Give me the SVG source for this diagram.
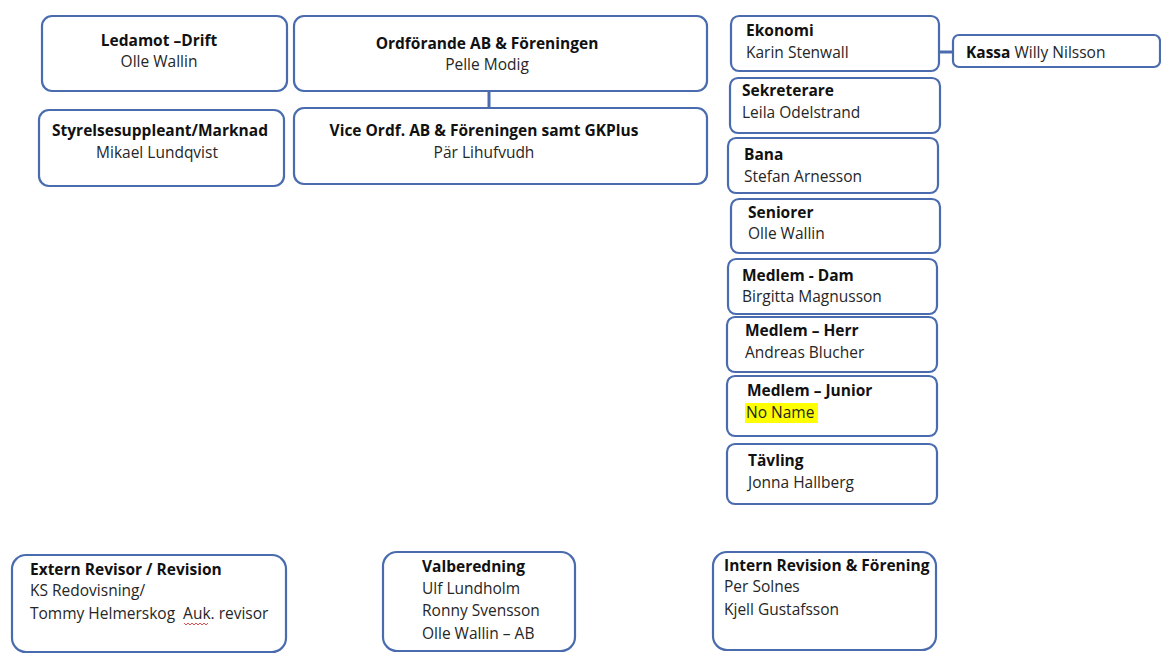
<svg xmlns="http://www.w3.org/2000/svg" width="1161" height="663" viewBox="0 0 1161 663">
<style>
.b{fill:#fff;stroke:#4a6cae;stroke-width:2.2}
text{font-family:"Open Sans",Lato,"Liberation Sans",sans-serif;font-size:15.5px;fill:#262626;white-space:pre}
.h{font-weight:bold;fill:#111}
.c{text-anchor:middle}
.l{stroke:#4a6cae;stroke-width:3;fill:none}
</style>
<rect width="1161" height="663" fill="#fff"/>
<g id="connectors">
<line class="l" x1="489" y1="91" x2="489" y2="108"/>
<line class="l" x1="939" y1="52" x2="953" y2="52"/>
</g>
<g id="ledamot"><rect class="b" x="42" y="16" width="245" height="75" rx="10"/>
<text class="h c" x="159" y="46">Ledamot –Drift</text><text class="c" x="159" y="67">Olle Wallin</text></g>
<g id="ordforande"><rect class="b" x="294" y="16" width="413" height="75" rx="10"/>
<text class="h c" x="487" y="49">Ordförande AB &amp; Föreningen</text><text class="c" x="487" y="70">Pelle Modig</text></g>
<g id="styrelsesuppleant"><rect class="b" x="39" y="110" width="245" height="76" rx="10"/>
<text class="h c" x="160" y="136">Styrelsesuppleant/Marknad</text><text class="c" x="157" y="158">Mikael Lundqvist</text></g>
<g id="viceordf"><rect class="b" x="294" y="108" width="413" height="76" rx="10"/>
<text class="h c" x="484" y="136">Vice Ordf. AB &amp; Föreningen samt GKPlus</text><text class="c" x="484" y="158">Pär Lihufvudh</text></g>
<g id="ekonomi"><rect class="b" x="731" y="16" width="208" height="55" rx="8"/>
<text class="h" x="746" y="36">Ekonomi</text><text x="746" y="58">Karin Stenwall</text></g>
<g id="kassa"><rect class="b" x="953" y="35" width="207" height="32" rx="6"/>
<text x="966" y="58"><tspan class="h">Kassa</tspan> Willy Nilsson</text></g>
<g id="sekreterare"><rect class="b" x="730" y="78" width="210" height="55" rx="8"/>
<text class="h" x="742" y="96">Sekreterare</text><text x="742" y="118">Leila Odelstrand</text></g>
<g id="bana"><rect class="b" x="728" y="138" width="210" height="55" rx="8"/>
<text class="h" x="744" y="160">Bana</text><text x="744" y="182">Stefan Arnesson</text></g>
<g id="seniorer"><rect class="b" x="731" y="199" width="209" height="54" rx="8"/>
<text class="h" x="748" y="218">Seniorer</text><text x="748" y="239">Olle Wallin</text></g>
<g id="medlem-dam"><rect class="b" x="728" y="259" width="209" height="55" rx="8"/>
<text class="h" x="742" y="281">Medlem - Dam</text><text x="742" y="302">Birgitta Magnusson</text></g>
<g id="medlem-herr"><rect class="b" x="727" y="317" width="210" height="55" rx="8"/>
<text class="h" x="745" y="336">Medlem – Herr</text><text x="745" y="358">Andreas Blucher</text></g>
<g id="medlem-junior"><rect class="b" x="727" y="376" width="210" height="60" rx="8"/>
<text class="h" x="747" y="396">Medlem – Junior</text>
<rect x="745" y="403" width="73" height="20" fill="#ffff00"/>
<text x="746" y="418">No Name</text></g>
<g id="tavling"><rect class="b" x="727" y="444" width="210" height="60" rx="8"/>
<text class="h" x="748" y="466">Tävling</text><text x="748" y="488">Jonna Hallberg</text></g>
<g id="extern"><rect class="b" x="12" y="555" width="274" height="97" rx="14"/>
<text class="h" x="30" y="575">Extern Revisor / Revision</text>
<text x="30" y="596">KS Redovisning/</text>
<text x="30" y="619">Tommy Helmerskog  Auk. revisor</text>
<path d="M184 623 l2 2 2 -2 2 2 2 -2 2 2 2 -2 2 2 2 -2 2 2 2 -2 2 2 2 -2" stroke="#e05050" stroke-width="1" fill="none"/></g>
<g id="valberedning"><rect class="b" x="383" y="552" width="192" height="99" rx="14"/>
<text class="h" x="422" y="572">Valberedning</text>
<text x="422" y="594">Ulf Lundholm</text>
<text x="422" y="616">Ronny Svensson</text>
<text x="422" y="639">Olle Wallin – AB</text></g>
<g id="intern"><rect class="b" x="713" y="552" width="223" height="98" rx="14"/>
<text class="h" x="724" y="571">Intern Revision &amp; Förening</text>
<text x="724" y="592">Per Solnes</text>
<text x="724" y="615">Kjell Gustafsson</text></g>
</svg>
